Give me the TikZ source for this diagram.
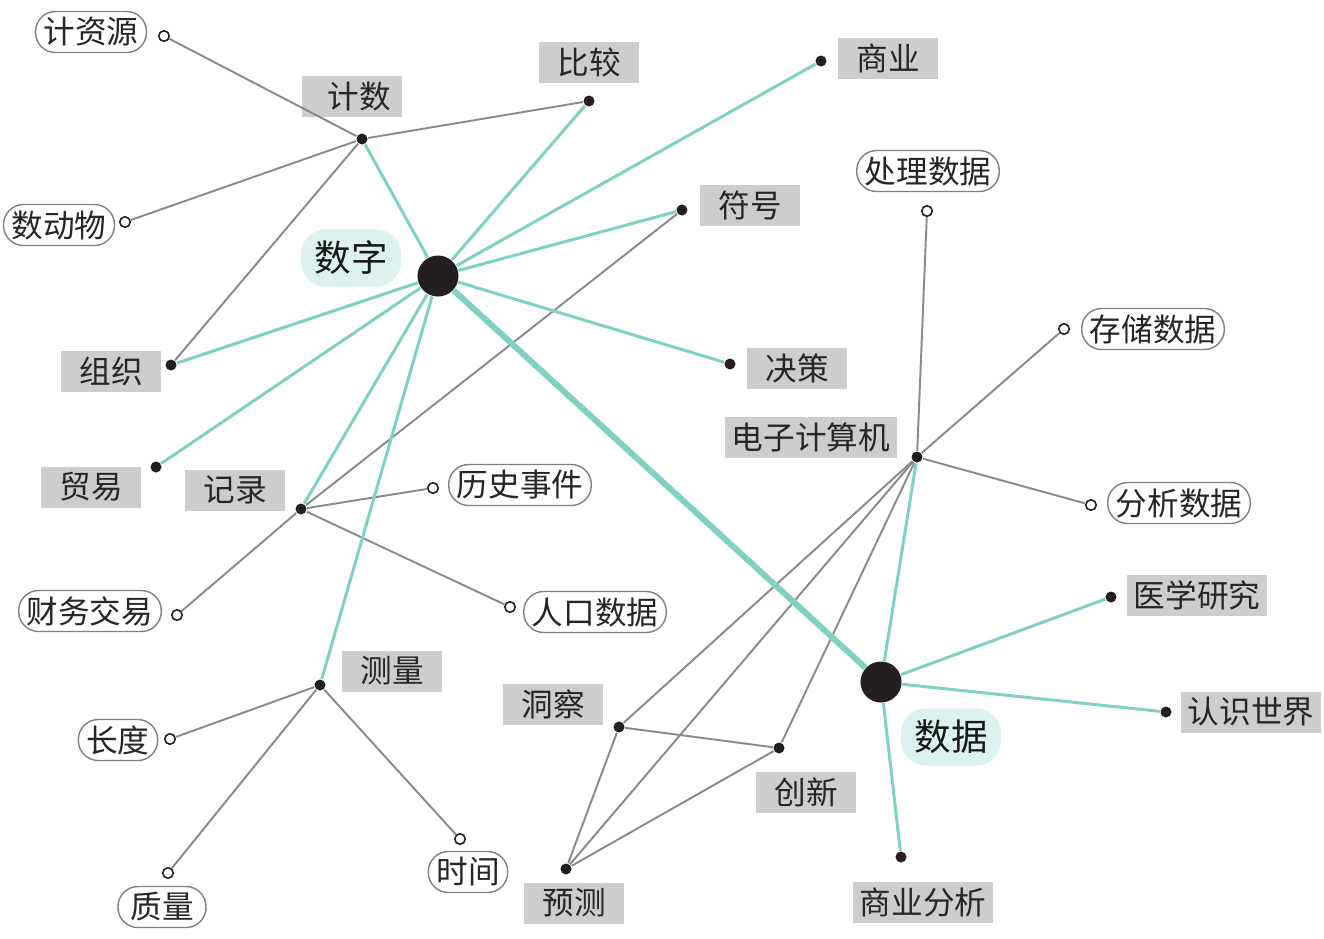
\documentclass[tikz,border=0pt]{standalone}
\usepackage{fontspec}
\setmainfont{Noto Sans CJK SC}
\usepackage{tikz}
\usetikzlibrary{positioning}
\definecolor{dotblack}{HTML}{231F20}
\definecolor{boxgray}{HTML}{CDCDCD}
\definecolor{hubteal}{HTML}{DCF2EE}
\definecolor{tealline}{HTML}{80D0C4}
\definecolor{linegray}{HTML}{8A8A8A}
\newcommand\lbfont{\fontsize{9pt}{10pt}\selectfont}
\newcommand\hubfont{\fontsize{10.4pt}{11pt}\selectfont}
\tikzset{
  hubdot/.style={circle,fill=dotblack,inner sep=0pt,minimum size=4.1mm},
  keydot/.style={circle,fill=dotblack,inner sep=0pt,minimum size=1.1mm},
  opendot/.style={circle,draw=dotblack,fill=white,line width=0.45pt,inner sep=0pt,minimum size=1.05mm},
  graybox/.style={fill=boxgray,minimum width=10mm,minimum height=4.1mm,inner xsep=0.7mm,inner ysep=0pt,font=\lbfont,text=black!85},
  roundbox/.style={draw=black!50,line width=0.4pt,rounded corners=2mm,fill=white,minimum height=4.1mm,inner xsep=0.8mm,inner ysep=0pt,font=\lbfont,text=black!85},
  hublabel/.style={fill=hubteal,rounded corners=2.5mm,minimum width=10mm,minimum height=5.6mm,font=\hubfont,text=black!90},
  tealedge/.style={tealline,line width=0.85pt},
  mainedge/.style={tealline,line width=1.7pt},
  grayedge/.style={linegray,line width=0.55pt},
}
\begin{document}
\begin{tikzpicture}[x=0.01cm,y=-0.01cm]
  \useasboundingbox (0,0) rectangle (1324,938);
  % hubs
  \node[hubdot] (hShuzi) at (438,276) {};
  \node[hubdot] (hShuju) at (881,682) {};
  \node[hublabel] (lShuzi) at (351,258) {数字};
  \node[hublabel] (lShuju) at (951,737) {数据};
  % filled points
  \node[keydot] (dJishu) at (362,139) {};
  \node[graybox] (lJishu) at (352,96) {\hspace{1.5mm}计数};
  \node[keydot] (dBijiao) at (589,101) {};
  \node[graybox] (lBijiao) at (589,62) {比较};
  \node[keydot] (dShangye) at (821,61) {};
  \node[graybox] (lShangye) at (888,58) {商业};
  \node[keydot] (dFuhao) at (682,210) {};
  \node[graybox] (lFuhao) at (750,205) {符号};
  \node[keydot] (dZuzhi) at (171,365) {};
  \node[graybox] (lZuzhi) at (111,371) {组织};
  \node[keydot] (dJuece) at (730,364) {};
  \node[graybox] (lJuece) at (797,368) {决策};
  \node[keydot] (dMaoyi) at (156,467) {};
  \node[graybox] (lMaoyi) at (91,487) {贸易};
  \node[keydot] (dJilu) at (301,509) {};
  \node[graybox] (lJilu) at (235,490) {记录};
  \node[keydot] (dCeliang) at (320,685) {};
  \node[graybox] (lCeliang) at (392,671) {测量};
  \node[keydot] (dDianzi) at (917,457) {};
  \node[graybox] (lDianzi) at (811,437) {电子计算机};
  \node[keydot] (dDongcha) at (619,727) {};
  \node[graybox] (lDongcha) at (553,704) {洞察};
  \node[keydot] (dChuangxin) at (779,748) {};
  \node[graybox] (lChuangxin) at (806,792) {创新};
  \node[keydot] (dYuce) at (566,869) {};
  \node[graybox] (lYuce) at (574,903) {预测};
  \node[keydot] (dYixue) at (1111,597) {};
  \node[graybox] (lYixue) at (1197,595) {医学研究};
  \node[keydot] (dRenshi) at (1166,712) {};
  \node[graybox] (lRenshi) at (1251,712) {认识世界};
  \node[keydot] (dShangfx) at (901,857) {};
  \node[graybox] (lShangfx) at (923,902) {商业分析};
  % open points
  \node[opendot] (oZiyuan) at (164,36) {};
  \node[roundbox] (lZiyuan) at (91,32) {计资源};
  \node[opendot] (oDongwu) at (125,222) {};
  \node[roundbox] (lDongwu) at (59,225) {数动物};
  \node[opendot] (oLishi) at (433,488) {};
  \node[roundbox] (lLishi) at (520,485) {历史事件};
  \node[opendot] (oCaiwu) at (177,615) {};
  \node[roundbox] (lCaiwu) at (90,611) {财务交易};
  \node[opendot] (oRenkou) at (510,607) {};
  \node[roundbox] (lRenkou) at (595,612) {人口数据};
  \node[opendot] (oChangdu) at (170,739) {};
  \node[roundbox] (lChangdu) at (118,740) {长度};
  \node[opendot] (oZhiliang) at (168,873) {};
  \node[roundbox,minimum width=8.8mm] (lZhiliang) at (162,907) {质量};
  \node[opendot] (oShijian) at (460,839) {};
  \node[roundbox] (lShijian) at (468,872) {时间};
  \node[opendot] (oChuli) at (927,211) {};
  \node[roundbox] (lChuli) at (928,171) {处理数据};
  \node[opendot] (oCunchu) at (1064,329) {};
  \node[roundbox] (lCunchu) at (1153,329) {存储数据};
  \node[opendot] (oFenxi) at (1091,505) {};
  \node[roundbox] (lFenxi) at (1179,503) {分析数据};
  % gray links
  \draw[grayedge] (dJishu) -- (oZiyuan);
  \draw[grayedge] (dJishu) -- (oDongwu);
  \draw[grayedge] (dJishu) -- (dBijiao);
  \draw[grayedge] (dJishu) -- (dZuzhi);
  \draw[grayedge] (dJilu) -- (dFuhao);
  \draw[grayedge] (dJilu) -- (oLishi);
  \draw[grayedge] (dJilu) -- (oRenkou);
  \draw[grayedge] (dJilu) -- (oCaiwu);
  \draw[grayedge] (dCeliang) -- (oChangdu);
  \draw[grayedge] (dCeliang) -- (oZhiliang);
  \draw[grayedge] (dCeliang) -- (oShijian);
  \draw[grayedge] (dDianzi) -- (oChuli);
  \draw[grayedge] (dDianzi) -- (oCunchu);
  \draw[grayedge] (dDianzi) -- (oFenxi);
  \draw[grayedge] (dDianzi) -- (dDongcha);
  \draw[grayedge] (dDianzi) -- (dYuce);
  \draw[grayedge] (dDianzi) -- (dChuangxin);
  \draw[grayedge] (dDongcha) -- (dChuangxin);
  \draw[grayedge] (dDongcha) -- (dYuce);
  \draw[grayedge] (dChuangxin) -- (dYuce);
  % teal links
  \draw[tealedge] (hShuzi) -- (dJishu);
  \draw[tealedge] (hShuzi) -- (dBijiao);
  \draw[tealedge] (hShuzi) -- (dShangye);
  \draw[tealedge] (hShuzi) -- (dFuhao);
  \draw[tealedge] (hShuzi) -- (dZuzhi);
  \draw[tealedge] (hShuzi) -- (dJuece);
  \draw[tealedge] (hShuzi) -- (dMaoyi);
  \draw[tealedge] (hShuzi) -- (dJilu);
  \draw[tealedge] (hShuzi) -- (dCeliang);
  \draw[tealedge] (hShuju) -- (dDianzi);
  \draw[tealedge] (hShuju) -- (dYixue);
  \draw[tealedge] (hShuju) -- (dRenshi);
  \draw[tealedge] (hShuju) -- (dShangfx);
  \draw[mainedge] (hShuzi) -- (hShuju);
\end{tikzpicture}
\end{document}
